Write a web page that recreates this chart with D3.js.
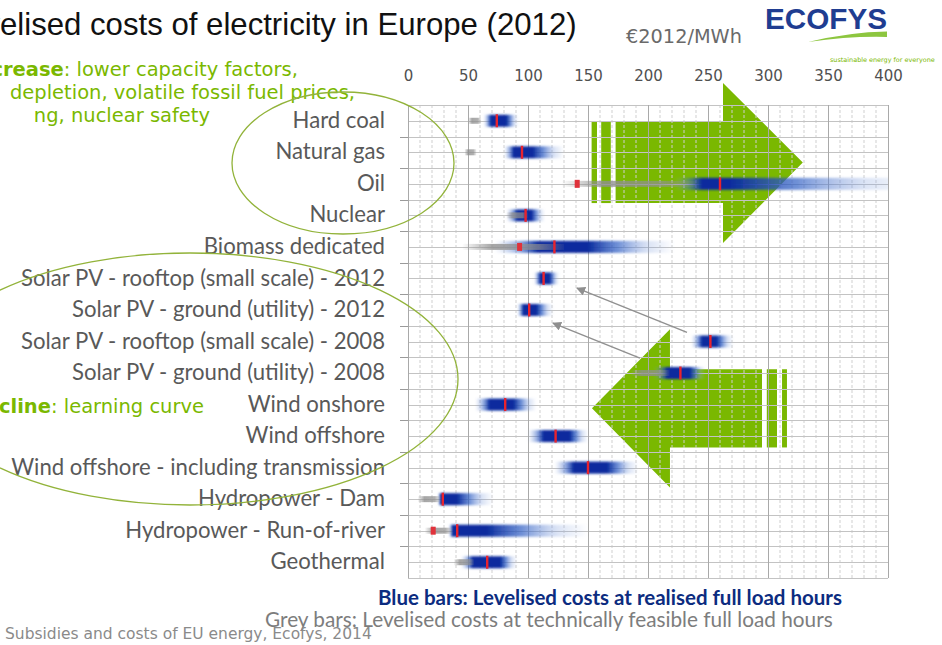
<!DOCTYPE html>
<html><head><meta charset="utf-8">
<script src="https://cdn.jsdelivr.net/npm/d3@7"></script>
<style>body{margin:0;background:#fff;overflow:hidden}svg{display:block}</style>
</head><body>
<svg id="c" width="942" height="645"></svg>
<script>
// ---------------- DATA (€2012/MWh) ----------------
const categories = ["Hard coal","Natural gas","Oil","Nuclear","Biomass dedicated",
  "Solar PV - rooftop (small scale) - 2012","Solar PV - ground (utility) - 2012",
  "Solar PV - rooftop (small scale) - 2008","Solar PV - ground (utility) - 2008",
  "Wind onshore","Wind offshore","Wind offshore - including transmission",
  "Hydropower - Dam","Hydropower - Run-of-river","Geothermal"];
const xTicks = [0,50,100,150,200,250,300,350,400];
// blue bars: levelised costs at realised full load hours
const blueLow  = [63, 80, 222, 82,  72, 105, 91, 236, 205, 56, 100, 122, 25, 34, 44];
const blueCoreLo=[69, 88, 245, 91, 108, 110, 96, 245, 216, 68, 113, 138, 27, 37, 54];
const blueCoreHi=[82,104, 268,103, 150, 118,107, 257, 235, 88, 135, 166, 41, 66, 77];
const blueHigh = [92,130, 430,114, 222, 126,121, 271, 248,107, 150, 192, 71,150, 91];
const realised = [74, 95, 260, 98, 122, 113,101, 252, 227, 81, 123, 150, 29, 41, 66];
// grey bars: levelised costs at technically feasible full load hours
const greyLow  = [50, 47, 128, 82, 45, null,null,null,185,null,null,null, 8, 14, 38];
const greyHigh = [61, 57, 240,100,130, null,null,null,218,null,null,null,27, 37, 55];
const greyMark = [null,null,141,null,93,null,null,null,null,null,null,null,null,21,null];
// annotation shapes in data units (x: €/MWh, y: row units from top of plot)
const upArrow   = {bars:[[153,157.5],[161,169]], bodyX:173, headX:262.5, tipX:329, y0:0.54, y1:3.11, headTop:-0.70, headBot:4.38};
const downArrow = {bars:[[299,307.5],[311.7,315.8]], bodyX:295, headX:218.3, tipX:153.3, y0:8.38, y1:10.86, headTop:7.11, headBot:12.13};
const pointers  = [{from:[232.5,7.21], to:[140.8,5.81]}, {from:[193.3,8.03], to:[120.8,6.92]}];

// ---------------- LAYOUT ----------------
const svg = d3.select("#c");
const defs = svg.append("defs");
const PL=408, PR=888, PT=105, PB=578;
const x = d3.scaleLinear().domain([0,400]).range([PL,PR]);
const y = d3.scaleBand().domain(categories).range([PT,PB]);
const rowY = d3.scaleLinear().domain([0,categories.length]).range([PT,PB]);
const GREEN = "#7ab800";

function measure(parts, family, size){
  const t = svg.append("text").attr("font-family",family).attr("font-size",size);
  parts.forEach(p=>t.append("tspan").attr("font-weight",p.b?"bold":"normal").text(p.t));
  const w = t.node().getComputedTextLength(); t.remove(); return w;
}
function fitText(parts, prefix, family, x0, x1, base, fill){
  const full = prefix.concat(parts);
  const wAll = measure(full, family, 100), wPre = prefix.length? measure(prefix, family, 100):0;
  const size = 100*(x1-x0)/(wAll-wPre);
  const t = svg.append("text").attr("font-family",family).attr("font-size",size)
    .attr("x", x0 - wPre*size/100).attr("y", base).attr("fill", fill);
  full.forEach(p=>t.append("tspan").attr("font-weight",p.b?"bold":"normal").text(p.t));
  return size;
}
function endText(parts, family, size, xEnd, base, fill){
  const t = svg.append("text").attr("font-family",family).attr("font-size",size)
    .attr("x", xEnd).attr("y", base).attr("text-anchor","end").attr("fill", fill);
  parts.forEach(p=>t.append("tspan").attr("font-weight",p.b?"bold":"normal").text(p.t));
}

// filters & clip
const f1 = defs.append("filter").attr("id","soft").attr("x","-10%").attr("y","-60%").attr("width","120%").attr("height","220%");
f1.append("feGaussianBlur").attr("stdDeviation","1.3 1.0");
const f2 = defs.append("filter").attr("id","soft2").attr("x","-50%").attr("y","-50%").attr("width","200%").attr("height","200%");
f2.append("feGaussianBlur").attr("stdDeviation","0.5");
defs.append("clipPath").attr("id","plotclip").append("rect").attr("x",PL).attr("y",PT).attr("width",PR-PL).attr("height",PB-PT);
defs.append("marker").attr("id","ah").attr("viewBox","0 0 10 10").attr("refX",9).attr("refY",5)
  .attr("markerWidth",9).attr("markerHeight",9).attr("markerUnits","userSpaceOnUse").attr("orient","auto")
  .append("path").attr("d","M0,0 L10,5 L0,10 Z").attr("fill","#8f8f8f");

// ---------------- TEXTS ----------------
fitText([{t:"elised costs of electricity in Europe (2012)"}],[{t:"Lev"}],"Liberation Sans",0,577,35,"#111");
fitText([{t:"€2012/MWh"}],[],"DejaVu Sans",626,742,43,"#6a6a6a");
// logo
svg.append("text").attr("x",765).attr("y",29).attr("font-family","Liberation Sans Narrow, Liberation Sans")
  .attr("font-weight","bold").attr("font-size",30).attr("textLength",122).attr("lengthAdjust","spacingAndGlyphs")
  .attr("fill","#1f3d91").text("ECOFYS");
svg.append("path").attr("d","M808,42 Q850,32 887,31.5 L887,37 Q850,36 808,42 Z").attr("fill","#8dc63f");
fitText([{t:"sustainable energy for everyone"}],[],"DejaVu Sans",830,935,62,GREEN);

// green notes (same font size for all lines)
const noteSize = fitText([{t:"rease",b:true},{t:": lower capacity factors,"}],[{t:"Cost inc",b:true}],"DejaVu Sans",3,298,76,GREEN);
endText([{t:"depletion, volatile fossil fuel prices,"}],"DejaVu Sans",noteSize,355,99,GREEN);
endText([{t:"ng, nuclear safety"}],"DejaVu Sans",noteSize,210,122,GREEN);
endText([{t:"Cost decline",b:true},{t:": learning curve"}],"DejaVu Sans",noteSize,204,413,GREEN);

// legend + source
fitText([{t:"Blue bars: Levelised costs at realised full load hours",b:true}],[],"Lato",378,842,605,"#0c2c80");
fitText([{t:"Grey bars: Levelised costs at technically feasible full load hours"}],[],"Lato",265,833,627,"#7d7d7d");
fitText([{t:"Subsidies and costs of EU energy, Ecofys, 2014"}],[],"DejaVu Sans",5,372,639,"#8a8a8a");

// ---------------- GREEN ARROWS ----------------
const ga = svg.append("g").attr("fill",GREEN);
function arrowPts(a){
  return [[a.bodyX,a.y0],[a.headX,a.y0],[a.headX,a.headTop],[a.tipX,(a.y0+a.y1)/2],
          [a.headX,a.headBot],[a.headX,a.y1],[a.bodyX,a.y1]].map(p=>[x(p[0]),rowY(p[1])].join(",")).join(" ");
}
[upArrow, downArrow].forEach(a=>{
  ga.append("polygon").attr("points",arrowPts(a));
  a.bars.forEach(b=>ga.append("rect").attr("x",x(b[0])).attr("width",x(b[1])-x(b[0]))
    .attr("y",rowY(a.y0)).attr("height",rowY(a.y1)-rowY(a.y0)));
});

// ---------------- GRID ----------------
const grid = svg.append("g");
grid.selectAll("line.minor").data(d3.range(0,401,10).filter(v=>v%50!==0)).join("line")
  .attr("x1",d=>x(d)).attr("x2",d=>x(d)).attr("y1",PT).attr("y2",PB)
  .attr("stroke","#cfcfcf").attr("stroke-width",1).attr("stroke-dasharray","3,2");
grid.selectAll("line.h").data(d3.range(0,categories.length+0.01,0.5)).join("line")
  .attr("x1",PL).attr("x2",PR).attr("y1",d=>Math.round(rowY(d))+0.5).attr("y2",d=>Math.round(rowY(d))+0.5)
  .attr("stroke","#c3c3c3").attr("stroke-width",1);
grid.selectAll("line.major").data(xTicks).join("line")
  .attr("x1",d=>Math.round(x(d))+0.5).attr("x2",d=>Math.round(x(d))+0.5).attr("y1",PT).attr("y2",PB)
  .attr("stroke","#a9a9a9").attr("stroke-width",1);
grid.selectAll("line.tk").data(d3.range(1,categories.length)).join("line")
  .attr("x1",PL-8).attr("x2",PL).attr("y1",d=>Math.round(rowY(d))+0.5).attr("y2",d=>Math.round(rowY(d))+0.5)
  .attr("stroke","#9a9a9a");

// axes
const xa = svg.append("g").attr("transform",`translate(0,81)`)
  .call(d3.axisTop(x).tickValues(xTicks).tickSize(0).tickPadding(0));
xa.select(".domain").remove();
xa.selectAll("text").attr("font-family","DejaVu Sans").attr("font-size",15).attr("fill","#505050");

const longest = "Wind offshore - including transmission";
const labSize = 100*374/measure([{t:longest}],"Lato",100);
const ya = svg.append("g").attr("transform",`translate(${PL},0)`)
  .call(d3.axisLeft(y).tickSize(0).tickPadding(23));
ya.select(".domain").remove();
ya.selectAll("text").attr("font-family","Lato").attr("font-size",labSize).attr("fill","#595959");

// ---------------- BARS ----------------
const bars = svg.append("g").attr("clip-path","url(#plotclip)");
const DARK="#0a2c9e", MID="#3563c6", LIGHT="#8aa6e0";
const bh = 12, gh = 6;
categories.forEach((c,i)=>{
  const lo=blueLow[i], hi=blueHigh[i], span=hi-lo, f=v=>(v-lo)/span;
  const a=f(blueCoreLo[i]), b=f(blueCoreHi[i]);
  const lg = defs.append("linearGradient").attr("id","bg"+i).attr("gradientUnits","userSpaceOnUse")
    .attr("x1",x(lo)).attr("x2",x(hi)).attr("y1",0).attr("y2",0);
  [[0,LIGHT,0],[a*0.55,MID,0.5],[a,DARK,1],[b,DARK,1],[b+(1-b)*0.35,MID,0.7],[b+(1-b)*0.7,LIGHT,0.3],[1,LIGHT,0]]
    .forEach(s=>lg.append("stop").attr("offset",s[0]).attr("stop-color",s[1]).attr("stop-opacity",s[2]));
});
bars.selectAll("rect.blue").data(categories).join("rect")
  .attr("x",(d,i)=>x(blueLow[i])).attr("width",(d,i)=>x(blueHigh[i])-x(blueLow[i]))
  .attr("y",d=>y(d)+y.bandwidth()/2-bh/2).attr("height",bh)
  .attr("fill",(d,i)=>`url(#bg${i})`).attr("filter","url(#soft)");

const gIdx = categories.map((c,i)=>i).filter(i=>greyLow[i]!==null);
gIdx.forEach(i=>{
  const lg = defs.append("linearGradient").attr("id","gg"+i).attr("gradientUnits","userSpaceOnUse")
    .attr("x1",x(greyLow[i])).attr("x2",x(greyHigh[i])).attr("y1",0).attr("y2",0);
  [[0,0],[0.3,0.8],[0.75,0.7],[1,0.1]].forEach(s=>lg.append("stop").attr("offset",s[0]).attr("stop-color","#8f8f8f").attr("stop-opacity",s[1]));
});
bars.selectAll("rect.grey").data(gIdx).join("rect")
  .attr("x",i=>x(greyLow[i])).attr("width",i=>x(greyHigh[i])-x(greyLow[i]))
  .attr("y",i=>y(categories[i])+y.bandwidth()/2-gh/2).attr("height",gh)
  .attr("fill",i=>`url(#gg${i})`).attr("filter","url(#soft2)");

bars.selectAll("rect.gm").data(gIdx.filter(i=>greyMark[i]!==null)).join("rect")
  .attr("x",i=>x(greyMark[i])-2.5).attr("width",5)
  .attr("y",i=>y(categories[i])+y.bandwidth()/2-4).attr("height",8)
  .attr("fill","#e0303a").attr("filter","url(#soft2)");

bars.selectAll("rect.red").data(categories).join("rect")
  .attr("x",(d,i)=>x(realised[i])-1.2).attr("width",2.4)
  .attr("y",d=>y(d)+y.bandwidth()/2-6.5).attr("height",13)
  .attr("fill","#e8232e");

// pointer arrows
svg.selectAll("line.ptr").data(pointers).join("line")
  .attr("x1",d=>x(d.from[0])).attr("y1",d=>rowY(d.from[1]))
  .attr("x2",d=>x(d.to[0])).attr("y2",d=>rowY(d.to[1]))
  .attr("stroke","#909090").attr("stroke-width",1.4).attr("marker-end","url(#ah)");

// ellipses
svg.append("ellipse").attr("cx",343).attr("cy",163).attr("rx",111).attr("ry",71)
  .attr("fill","none").attr("stroke","#92b33a").attr("stroke-width",1.3);
svg.append("ellipse").attr("cx",190).attr("cy",379).attr("rx",268).attr("ry",126)
  .attr("fill","none").attr("stroke","#92b33a").attr("stroke-width",1.3);
</script>
</body></html>
